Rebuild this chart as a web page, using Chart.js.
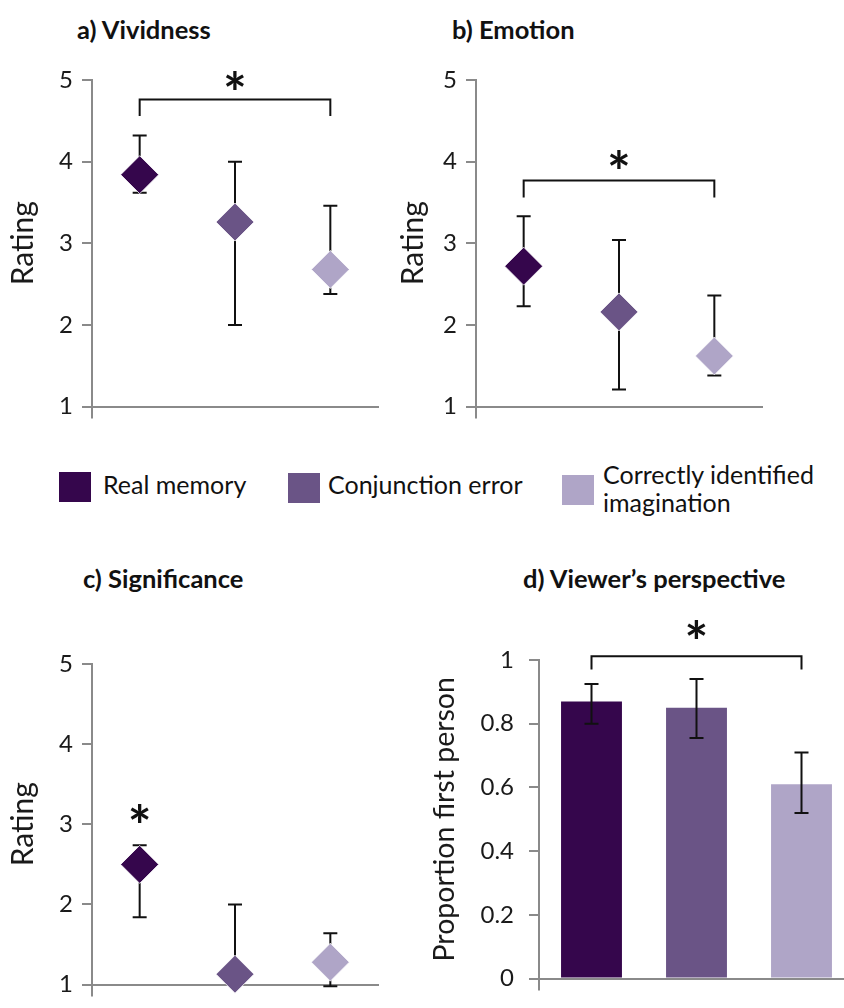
<!DOCTYPE html>
<html>
<head>
<meta charset="utf-8">
<script src="https://cdn.jsdelivr.net/npm/chart.js@4.4.0/dist/chart.umd.min.js"></script>
<style>
  html, body { margin: 0; padding: 0; background: #fff; }
  body { width: 844px; height: 1008px; position: relative; overflow: hidden; font-family: Lato, sans-serif; color: #111; }
  canvas { position: absolute; }
  .title { position: absolute; font-weight: bold; font-size: 25.5px; line-height: 28px; white-space: nowrap; }
  .legend { position: absolute; font-size: 25px; line-height: 28px; white-space: nowrap; }
  .swatch { position: absolute; width: 32px; height: 30px; }
</style>
</head>
<body>
<div class="title" style="left:77px; top:15px">a) Vividness</div>
<div class="title" style="left:452px; top:15px">b) Emotion</div>
<div class="title" style="left:83px; top:564px">c) Significance</div>
<div class="title" style="left:523px; top:564px">d) Viewer’s perspective</div>

<div class="swatch" id="sw0" style="left:59px; top:472px"></div>
<div class="legend" style="left:103px; top:470px">Real memory</div>
<div class="swatch" id="sw1" style="left:288px; top:473px"></div>
<div class="legend" style="left:328px; top:470px">Conjunction error</div>
<div class="swatch" id="sw2" style="left:562px; top:475px"></div>
<div class="legend" style="left:603px; top:460px">Correctly identified<br>imagination</div>

<canvas id="vivid" width="400" height="380" style="left:0; top:50px"></canvas>
<canvas id="emotion" width="400" height="380" style="left:400px; top:50px"></canvas>
<canvas id="signif" width="400" height="374" style="left:0; top:634px"></canvas>
<canvas id="persp" width="450" height="418" style="left:420px; top:590px"></canvas>

<script>
// conditions
const categories = ['Real memory', 'Conjunction error', 'Correctly identified imagination'];

// a) vividness ratings (mean, error bar low / high)
const vividMean = [3.84, 3.26, 2.68];
const vividLow  = [3.62, 2.00, 2.38];
const vividHigh = [4.32, 4.00, 3.46];

// b) emotion ratings
const emotionMean = [2.72, 2.16, 1.62];
const emotionLow  = [2.23, 1.21, 1.38];
const emotionHigh = [3.33, 3.04, 2.36];

// c) significance ratings
const signifMean = [2.50, 1.13, 1.28];
const signifLow  = [1.84, 1.00, 0.98];
const signifHigh = [2.74, 2.00, 1.64];

// d) proportion first person
const perspMean = [0.87, 0.85, 0.61];
const perspLow  = [0.80, 0.755, 0.52];
const perspHigh = [0.925, 0.94, 0.71];

// axis ranges
const ratingRange = [1, 5, 1];
const propRange = [0, 1, 0.2];

const colors = ['#35064c', '#6a5486', '#afa5c7'];
const axisGray = '#8a8a8a';
const ink = '#111';

colors.forEach((c, i) => { document.getElementById('sw' + i).style.background = c; });

// error bars drawn through the chart scales
function drawErrorBars(chart, opts) {
  const { ctx, scales: { x, y } } = chart;
  const cap = 7;
  ctx.save();
  ctx.strokeStyle = ink;
  ctx.lineWidth = 2;
  opts.low.forEach((lo, i) => {
    const px = x.getPixelForValue(i);
    const top = y.getPixelForValue(opts.high[i]);
    const bot = y.getPixelForValue(lo);
    ctx.beginPath();
    ctx.moveTo(px, top); ctx.lineTo(px, bot);
    ctx.moveTo(px - cap, top); ctx.lineTo(px + cap, top);
    ctx.moveTo(px - cap, bot); ctx.lineTo(px + cap, bot);
    ctx.stroke();
  });
  ctx.restore();
}

const errorBars = {
  id: 'errorBars',
  beforeDatasetsDraw(chart, args, opts) { if (opts.behind) drawErrorBars(chart, opts); },
  afterDatasetsDraw(chart, args, opts) { if (!opts.behind) drawErrorBars(chart, opts); }
};

// significance brackets and stars
const sigMarks = {
  id: 'sigMarks',
  afterDatasetsDraw(chart, args, opts) {
    const { ctx, scales: { x, y } } = chart;
    ctx.save();
    ctx.strokeStyle = ink;
    ctx.lineWidth = 2;
    (opts.brackets || []).forEach(b => {
      const x0 = x.getPixelForValue(b.from), x1 = x.getPixelForValue(b.to);
      const yt = y.getPixelForValue(b.y), yl = y.getPixelForValue(b.leg);
      ctx.beginPath();
      ctx.moveTo(x0, yl); ctx.lineTo(x0, yt); ctx.lineTo(x1, yt); ctx.lineTo(x1, yl);
      ctx.stroke();
    });
    ctx.fillStyle = ink;
    ctx.font = 'bold 56px Lato';
    ctx.textAlign = 'center';
    ctx.textBaseline = 'alphabetic';
    (opts.stars || []).forEach(s => {
      const m = ctx.measureText('*');
      const px = x.getPixelForValue(s.x), py = y.getPixelForValue(s.y);
      ctx.fillText('*', px, py + (m.actualBoundingBoxAscent - m.actualBoundingBoxDescent) / 2);
    });
    ctx.restore();
  }
};

function scalesFor(range, title, titleSize, yW, xH, tickPad, titlePad) {
  return {
    x: {
      type: 'category',
      offset: true,
      border: { display: true, color: axisGray, width: 2 },
      grid: {
        offset: true, drawOnChartArea: false, drawTicks: true, tickLength: 12, lineWidth: 2,
        color: ctx => ctx.index === 0 ? axisGray : 'rgba(0,0,0,0)'
      },
      ticks: { display: false },
      afterFit: s => { s.height = xH; }
    },
    y: {
      min: range[0], max: range[1],
      border: { display: true, color: axisGray, width: 2 },
      grid: { drawOnChartArea: false, drawTicks: true, tickLength: 10, color: axisGray, lineWidth: 2 },
      ticks: {
        stepSize: range[2], padding: tickPad, color: '#1a1a1a', font: { family: 'Lato', size: 24 },
        callback: v => String(Math.round(v * 10) / 10)
      },
      title: { display: true, text: title, color: '#1a1a1a', padding: { top: titlePad, bottom: 0 },
               font: { family: 'Lato', size: titleSize, lineHeight: 1 } },
      afterFit: s => { s.width = yW; }
    }
  };
}

function ratingPanel(id, mean, low, high, marks, pad, yW, xH, titlePad) {
  new Chart(document.getElementById(id), {
    type: 'line',
    data: {
      labels: categories,
      datasets: [{
        data: mean,
        showLine: false,
        pointStyle: 'rectRot',
        pointRadius: 19,
        pointBackgroundColor: colors,
        pointBorderColor: 'rgba(255,255,255,0.8)',
        pointBorderWidth: 1,
        clip: false
      }]
    },
    options: {
      responsive: false,
      animation: false,
      devicePixelRatio: 1,
      layout: { padding: pad },
      scales: scalesFor(ratingRange, 'Rating', 30, yW, xH, 9, titlePad),
      plugins: {
        legend: { display: false },
        tooltip: { enabled: false },
        errorBars: { low: low, high: high, behind: true },
        sigMarks: marks
      }
    },
    plugins: [errorBars, sigMarks]
  });
}

ratingPanel('vivid', vividMean, vividLow, vividHigh,
  { brackets: [{ from: 0, to: 2, y: 4.76, leg: 4.56 }], stars: [{ x: 1, y: 5.0 }] },
  { top: 30, right: 22, bottom: 0, left: 0 }, 92, 14, 8);

ratingPanel('emotion', emotionMean, emotionLow, emotionHigh,
  { brackets: [{ from: 0, to: 2, y: 3.77, leg: 3.56 }], stars: [{ x: 1, y: 4.03 }] },
  { top: 30, right: 38, bottom: 0, left: 0 }, 76, 14, -2);

ratingPanel('signif', signifMean, signifLow, signifHigh,
  { brackets: [], stars: [{ x: 0, y: 3.13 }] },
  { top: 30, right: 22, bottom: 0, left: 0 }, 92, 9, 8);

new Chart(document.getElementById('persp'), {
  type: 'bar',
  data: {
    labels: categories,
    datasets: [{
      data: perspMean,
      backgroundColor: colors,
      borderWidth: 0,
      barPercentage: 0.58,
      categoryPercentage: 1.0
    }]
  },
  options: {
    responsive: false,
    animation: false,
    devicePixelRatio: 1,
    layout: { padding: { top: 70, right: 16, bottom: 0, left: 0 } },
    scales: scalesFor(propRange, 'Proportion first person', 28.5, 119, 11, 15, 11),
    plugins: {
      legend: { display: false },
      tooltip: { enabled: false },
      errorBars: { low: perspLow, high: perspHigh, behind: false },
      sigMarks: { brackets: [{ from: 0, to: 2, y: 1.012, leg: 0.97 }], stars: [{ x: 1, y: 1.095 }] }
    }
  },
  plugins: [errorBars, sigMarks]
});
</script>
</body>
</html>
